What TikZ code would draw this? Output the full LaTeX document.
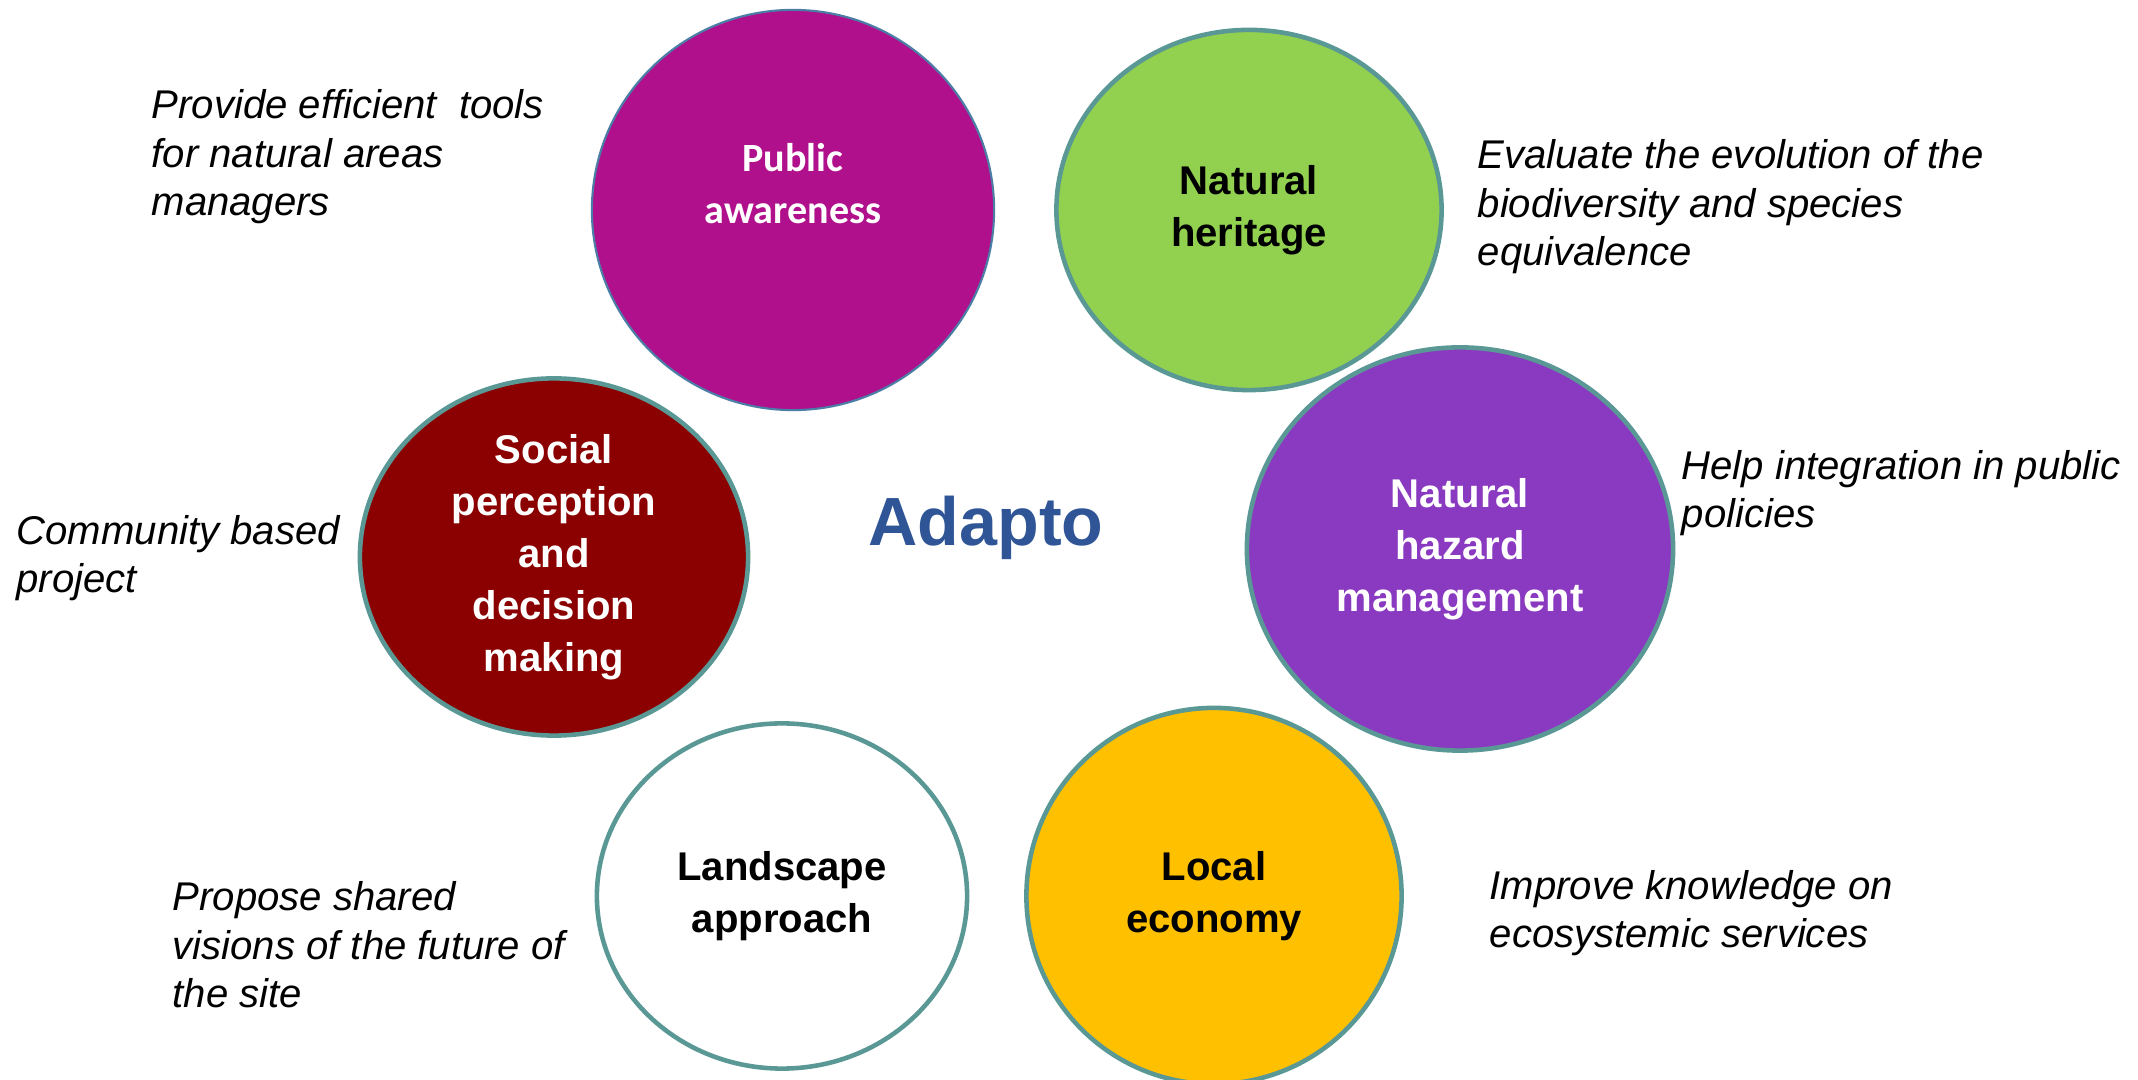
\documentclass[tikz,border=0pt]{standalone}
\usepackage{fontspec}
\setmainfont{Liberation Sans}
\newfontfamily\calibrifont{Carlito}
\usepackage{xcolor}
\usetikzlibrary{shapes.geometric,positioning}
\definecolor{rimteal}{HTML}{5A9896}
\definecolor{rimblue}{HTML}{4A7EA6}
\definecolor{awarenessfill}{HTML}{B0108B}
\definecolor{heritagefill}{HTML}{92D050}
\definecolor{socialfill}{HTML}{8B0000}
\definecolor{hazardfill}{HTML}{8A3AC0}
\definecolor{economyfill}{HTML}{FFC000}
\definecolor{adaptoblue}{HTML}{2F5597}

\begin{document}
\begin{tikzpicture}[
    x=0.01cm, y=-0.01cm,
    nosep/.style={inner sep=0},
    bubble/.style={ellipse, draw=rimteal, line width=1.3pt, nosep, align=center,
        font=\fontsize{11.4}{14.8}\selectfont\bfseries},
    note/.style={anchor=base west, align=left, nosep,
        font=\fontsize{11.4}{13.9}\selectfont\itshape}]
\useasboundingbox (0,0) rectangle (2138,1080);

\node[bubble, fill=awarenessfill, draw=rimblue, line width=0.6pt, minimum width=4.02cm, minimum height=4.00cm] (awareness) at (793,210) {};
\node[nosep, align=center, text=white, font=\fontsize{11.4}{14.8}\selectfont\calibrifont\bfseries] (awarenesstext) at ([yshift=0.26cm]awareness.center) {Public\\awareness};
\node[bubble, fill=heritagefill, minimum width=3.85cm, minimum height=3.60cm] (heritage) at (1249,210) {Natural\\heritage};
\node[bubble, fill=socialfill, text=white, minimum width=3.88cm, minimum height=3.57cm] (social) at (554,557) {Social\\perception\\and\\decision\\making};
\node[bubble, fill=hazardfill, text=white, minimum width=4.26cm, minimum height=4.03cm] (hazard) at (1460,549) {Natural\\hazard\\management};
\node[bubble, fill=white, minimum width=3.70cm, minimum height=3.45cm] (landscape) at (782,896) {Landscape\\approach};
\node[bubble, fill=economyfill, minimum width=3.75cm, minimum height=3.76cm] (economy) at (1214,896) {Local\\economy};

\node[anchor=base, nosep, text=adaptoblue, font=\fontsize{19.4}{23}\selectfont\bfseries] (adapto) at (986,546) {Adapto};

\node[note] (awarenessnote) at (151,216) {Provide efficient\ \ tools\\for natural areas\\managers};
\node[note] (heritagenote) at (1477,266) {Evaluate the evolution of the\\biodiversity and species\\equivalence};
\node[note] (socialnote) at (16,593) {Community based\\project};
\node[note] (hazardnote) at (1681,528) {Help integration in public\\policies};
\node[note] (landscapenote) at (172,1008) {Propose shared\\visions of the future of\\the site};
\node[note] (economynote) at (1489,948) {Improve knowledge on\\ecosystemic services};

\end{tikzpicture}
\end{document}
